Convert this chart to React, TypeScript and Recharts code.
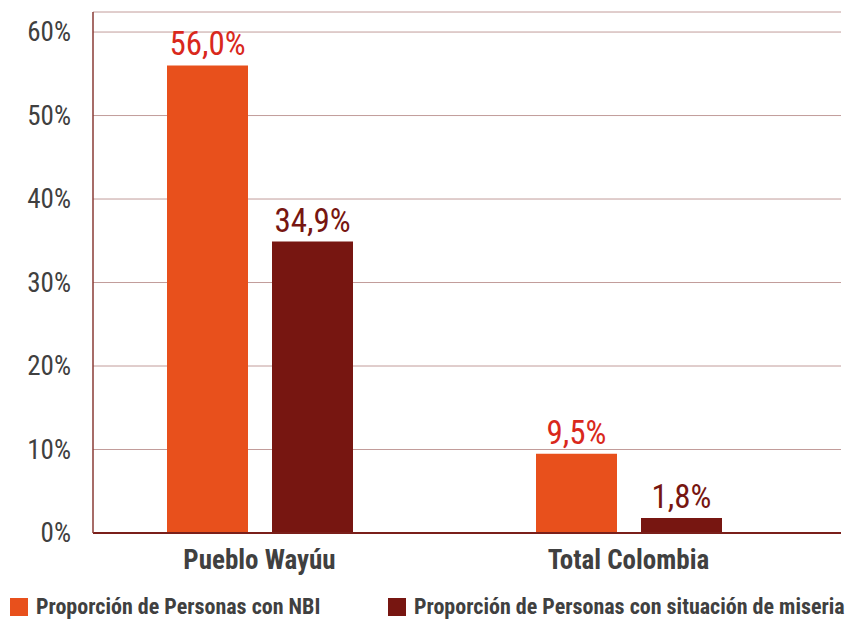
import React from "react";
import { Bar, BarChart, CartesianGrid, LabelList, XAxis, YAxis } from "recharts";

const categories = ["Pueblo Wayúu", "Total Colombia"];
const nbi = [56.0, 9.5];
const miseria = [34.9, 1.8];
const yTicks = [0, 10, 20, 30, 40, 50, 60];

const seriesNames = [
  "Proporción de Personas con NBI",
  "Proporción de Personas con situación de miseria",
];

const ORANGE = "#E8501C";
const DARK = "#771611";
const LABEL_RED = "#D9281C";
const TEXT = "#404040";
const FONT = '"Roboto Condensed", "Liberation Sans Narrow", "DejaVu Sans Condensed", sans-serif';

const data = categories.map((name, i) => ({ name, nbi: nbi[i], miseria: miseria[i] }));

const fmt = (v: number) => `${v.toFixed(1).replace(".", ",")}%`;

function YTick({ x, y, payload }: any) {
  return (
    <text x={x} y={y} dy={9} textAnchor="end" fill={TEXT} fontSize={27} fontFamily={FONT}>
      {payload.value}%
    </text>
  );
}

function XTick({ x, y, payload }: any) {
  return (
    <text x={x} y={y} dy={28} textAnchor="middle" fill={TEXT} fontSize={27} fontWeight="bold" fontFamily={FONT}>
      {payload.value}
    </text>
  );
}

export default function App() {
  return (
    <div style={{ position: "relative", width: 856, height: 621, background: "#fff", overflow: "hidden" }}>
      <style>{`body{margin:0}`}</style>
      <BarChart
        width={856}
        height={621}
        data={data}
        margin={{ top: 12, right: 15, left: 0, bottom: 38 }}
        barSize={81}
        barGap={24}
      >
        <CartesianGrid vertical={false} stroke="#C29C9A" strokeWidth={1} />
        <XAxis
          dataKey="name"
          height={50}
          padding={{ left: -18, right: 28 }}
          axisLine={{ stroke: "#7A1F1A", strokeWidth: 2 }}
          tickLine={false}
          tick={<XTick />}
          interval={0}
        />
        <YAxis
          width={93}
          domain={[0, 62.4]}
          ticks={yTicks}
          axisLine={{ stroke: "#8A3B36", strokeWidth: 1.5 }}
          tickLine={false}
          tickSize={0}
          tickMargin={22}
          tick={<YTick />}
        />
        <Bar dataKey="nbi" fill={ORANGE} isAnimationActive={false}>
          <LabelList
            dataKey="nbi"
            position="top"
            offset={10}
            formatter={(v: any) => fmt(Number(v))}
            fill={LABEL_RED}
            fontSize={33}
            fontFamily={FONT}
          />
        </Bar>
        <Bar dataKey="miseria" fill={DARK} isAnimationActive={false}>
          <LabelList
            dataKey="miseria"
            position="top"
            offset={10}
            formatter={(v: any) => fmt(Number(v))}
            fill={DARK}
            fontSize={33}
            fontFamily={FONT}
          />
        </Bar>
      </BarChart>
      <div
        style={{
          position: "absolute",
          top: 594,
          left: 10,
          width: 846,
          height: 26,
          fontFamily: FONT,
          fontWeight: "bold",
          fontSize: 22,
          lineHeight: "26px",
          color: TEXT,
        }}
      >
        {seriesNames.map((n, i) => (
          <div
            key={n}
            style={{
              position: "absolute",
              left: i === 0 ? 0 : 378,
              top: 0,
              display: "flex",
              alignItems: "center",
              gap: 8,
              whiteSpace: "nowrap",
            }}
          >
            <div style={{ width: 18, height: 18, background: i === 0 ? ORANGE : DARK }} />
            <span>{n}</span>
          </div>
        ))}
      </div>
    </div>
  );
}
